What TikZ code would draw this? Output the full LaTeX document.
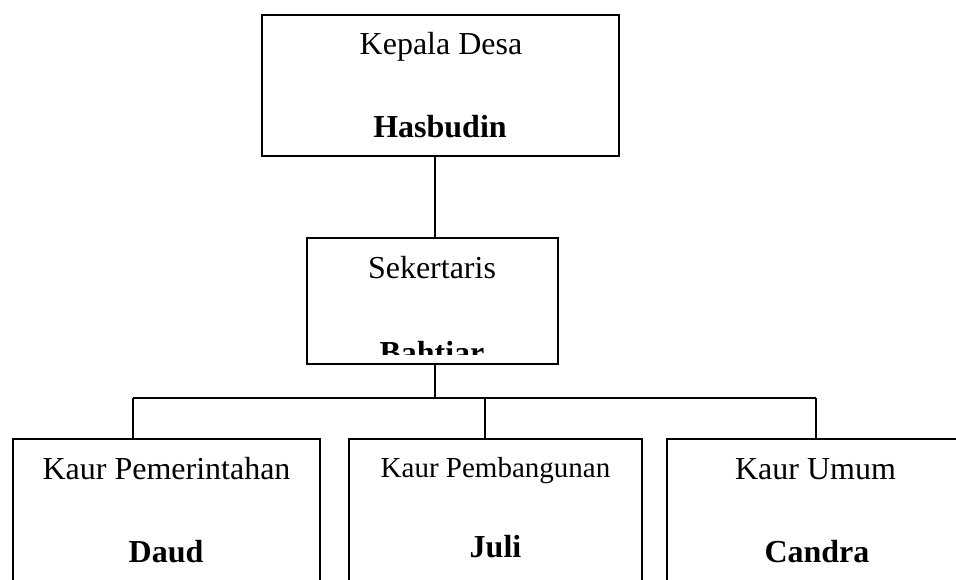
\documentclass[tikz,border=0pt]{standalone}
\usepackage{fontspec}
\setmainfont{Liberation Serif}
\begin{document}
\begin{tikzpicture}[x=1pt,y=-1pt,line width=1.4pt,
  box/.style={draw,rectangle,inner sep=0pt},
  jabatan/.style={anchor=base,font=\fontsize{32}{38}\selectfont},
  nama/.style={anchor=base,font=\fontsize{32}{38}\selectfont\bfseries}]
\useasboundingbox (0,0) rectangle (956,580);
\clip (0,0) rectangle (956,580);
% kotak
\node [box,minimum width=357pt,minimum height=141pt] (kades) at (440.5,85.5) {};
\node [box,minimum width=251pt,minimum height=126pt] (sekdes) at (432.5,301) {};
\node [box,minimum width=307pt,minimum height=201pt] (kaur1) at (166.5,539.5) {};
\node [box,minimum width=293pt,minimum height=201pt] (kaur2) at (495.5,539.5) {};
\node [box,minimum width=298pt,minimum height=201pt] (kaur3) at (816,539.5) {};
% garis
\coordinate (batang) at (435,398);
\coordinate (bus1) at (133,398);
\coordinate (bus2) at (485,398);
\coordinate (bus3) at (816,398);
\draw (batang |- kades.south) -- (batang |- sekdes.north);
\draw (batang |- sekdes.south) -- (batang);
\draw (bus1) -- (bus3);
\foreach \i in {1,2,3}
  \draw (bus\i) -- (bus\i |- kaur\i.north);
% teks
\node [jabatan] (tKades) at (441,55) {Kepala Desa};
\node [nama] (nKades) at (440,138) {Hasbudin};
\node [jabatan] (tSekdes) at (432,279) {Sekertaris};
\begin{scope}
\clip (307,238) rectangle (558,354);
\node [nama] (nSekdes) at (432,363) {Bahtiar};
\end{scope}
\node [jabatan] (tKaur1) at (166.5,479) {Kaur Pemerintahan};
\node [nama] (nKaur1) at (166,562) {Daud};
\node [jabatan,font=\fontsize{29}{35}\selectfont] (tKaur2) at (495.5,477) {Kaur Pembangunan};
\node [nama] (nKaur2) at (495.5,557) {Juli};
\node [jabatan] (tKaur3) at (815.5,479) {Kaur Umum};
\node [nama] (nKaur3) at (817,562) {Candra};
\end{tikzpicture}
\end{document}
